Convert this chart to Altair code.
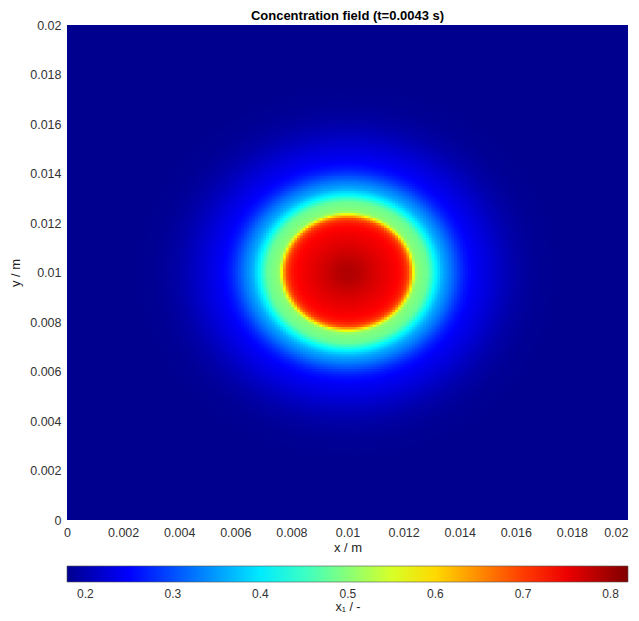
import altair as alt
import numpy as np
import pandas as pd

# ---------------- data ----------------
title_text = "Concentration field (t=0.0043 s)"
x_title = "x / m"
y_title = "y / m"
cbar_title = "x\u2081 / -"

center_x = 0.010
center_y = 0.010
# radial profile of x1 around the drop centre (radius in m, value)
profile_r = [0.0, 0.00036, 0.00078, 0.00125, 0.0016, 0.00185, 0.00203, 0.00217,
             0.00226, 0.00234, 0.00241, 0.0025, 0.00285, 0.00303, 0.00314,
             0.00339, 0.00365, 0.0040, 0.00419, 0.0045, 0.0050, 0.0055,
             0.0060, 0.0065, 0.0070, 0.0076]
profile_v = [0.79, 0.785, 0.77, 0.755, 0.745, 0.735, 0.72, 0.69,
             0.64, 0.58, 0.52, 0.50, 0.48, 0.44, 0.41,
             0.36, 0.33, 0.285, 0.265, 0.245, 0.228, 0.21,
             0.195, 0.186, 0.181, 0.179]
background_v = 0.179

axis_ticks = [0, 0.002, 0.004, 0.006, 0.008, 0.01, 0.012, 0.014, 0.016, 0.018, 0.02]
cbar_ticks = [0.2, 0.3, 0.4, 0.5, 0.6, 0.7, 0.8]
cmin, cmax = 0.179, 0.82

# MATLAB jet(64) anchor colours
jet_frac = [0.0, 7 / 63, 23 / 63, 39 / 63, 55 / 63, 1.0]
jet_colors = ["#00008f", "#0000ff", "#00ffff", "#ffff00", "#ff0000", "#800000"]

# ---------------- build the field table ----------------
step = 0.0001
rmax = profile_r[-1]
xs = np.round(np.arange(center_x - rmax, center_x + rmax, step), 6)
ys = np.round(np.arange(center_y - rmax, center_y + rmax, step), 6)
gx, gy = np.meshgrid(xs, ys)
cx = gx + step / 2
cy = gy + step / 2
rr = np.sqrt((cx - center_x) ** 2 + (cy - center_y) ** 2)
mask = rr <= rmax
vals = np.interp(rr[mask], profile_r, profile_v)
field = pd.DataFrame({
    "x": np.round(gx[mask], 6),
    "y": np.round(gy[mask], 6),
    "v": np.round(vals, 4),
})
bg = pd.DataFrame({"x": [0.0], "x2": [0.02], "y": [0.0], "y2": [0.02], "v": [background_v]})

dom = [cmin + f * (cmax - cmin) for f in jet_frac]
color_scale = alt.Scale(domain=dom, range=jet_colors, interpolate="rgb", clamp=True)

FONT = "Liberation Sans"
xscale = alt.Scale(domain=[0, 0.02], nice=False, zero=False)
yscale = alt.Scale(domain=[0, 0.02], nice=False, zero=False)

xaxis = alt.Axis(values=axis_ticks, format="~g", title=x_title, ticks=False, domain=False,
                 grid=False, labelPadding=6, titlePadding=3, labelFontSize=12.5,
                 titleFontSize=13, titleFontWeight="normal", labelColor="#333333",
                 titleColor="#222222", labelFont=FONT, titleFont=FONT,
                 labelFlush=False,
                 labelAlign=alt.condition("datum.value >= 0.0199", alt.value("right"),
                                          alt.value("center")))
yaxis = alt.Axis(values=axis_ticks, format="~g", title=y_title, ticks=False, domain=False,
                 grid=False, labelPadding=6, titlePadding=7, labelFontSize=12.5,
                 titleFontSize=13, titleFontWeight="normal", labelColor="#333333",
                 titleColor="#222222", labelFont=FONT, titleFont=FONT,
                 labelFlush=False)

legend = alt.Legend(
    title=cbar_title, orient="none", legendX=0, legendY=541,
    direction="horizontal", gradientLength=561, gradientThickness=16,
    values=cbar_ticks, format=".1f", labelFontSize=12, labelFont=FONT,
    labelColor="#333333", labelOffset=7, titleOrient="bottom",
    titleAnchor="middle", titleFontSize=12.5, titleFontWeight="normal",
    titleFont=FONT, titleColor="#222222", titlePadding=1,
    gradientStrokeColor="#555555", gradientStrokeWidth=0.6,
)

base_bg = alt.Chart(bg).mark_rect().encode(
    x=alt.X("x:Q", scale=xscale, axis=xaxis),
    x2="x2:Q",
    y=alt.Y("y:Q", scale=yscale, axis=yaxis),
    y2="y2:Q",
    color=alt.Color("v:Q", scale=color_scale, legend=legend),
)

heat = alt.Chart(field).transform_calculate(
    x2=f"datum.x + {step * 1.3}",
    y2=f"datum.y + {step * 1.3}",
).mark_rect().encode(
    x=alt.X("x:Q", scale=xscale),
    x2="x2:Q",
    y=alt.Y("y:Q", scale=yscale),
    y2="y2:Q",
    color=alt.Color("v:Q", scale=color_scale, legend=legend),
)

chart = alt.layer(base_bg, heat).properties(
    width=561,
    height=495,
    title=alt.TitleParams(title_text, fontSize=13, fontWeight="bold", font=FONT,
                          anchor="middle", offset=3, frame="group", dy=7,
                          color="#000000"),
    autosize=alt.AutoSizeParams(type="none"),
    padding={"left": 59, "top": 17, "right": 3, "bottom": 93},
).configure_view(stroke=None)

chart.save("out.html", embed_options={"renderer": "svg", "actions": False})
